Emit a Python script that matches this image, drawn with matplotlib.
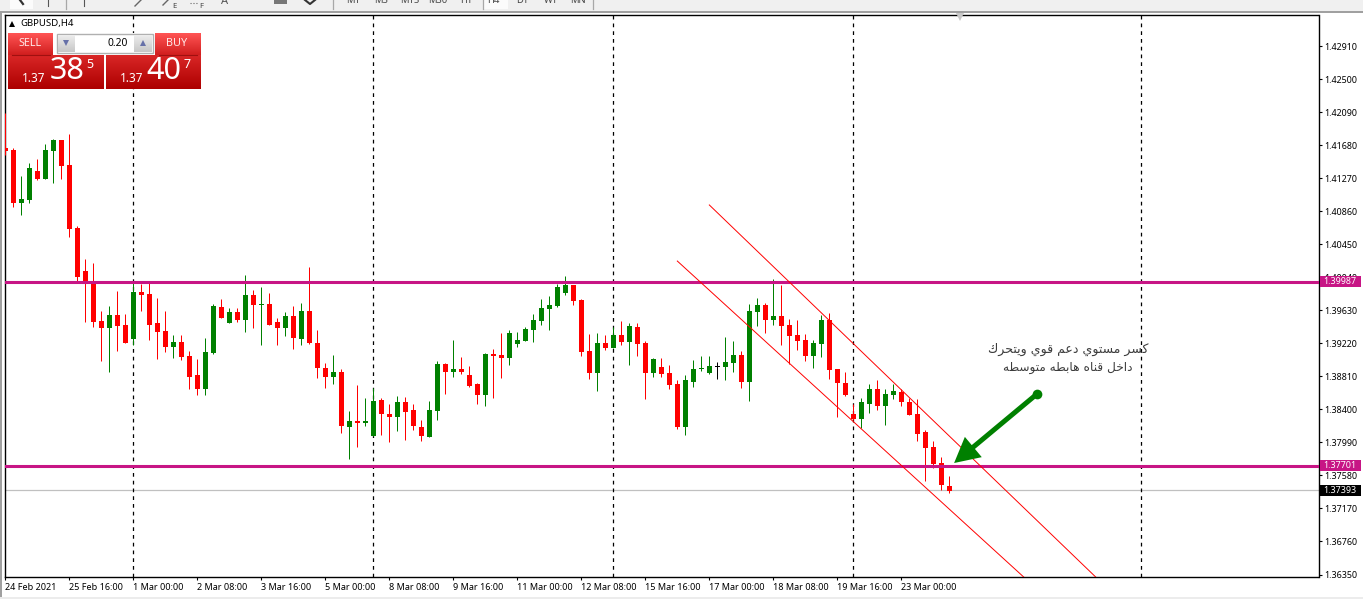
"""
    GBPUSD H4 candles, MT4 look
    saves out.png
"""
from matplotlib import pyplot as plt
from matplotlib.patches import Rectangle, FancyArrowPatch
import numpy as np

W, H = 1363, 599

opens = [1.41644, 1.41619, 1.40961, 1.40999, 1.41359, 1.41259, 1.41607, 1.41743, 1.41433, 1.40651,
         1.40117, 1.39968, 1.39497, 1.39410, 1.39571, 1.39447, 1.39273, 1.39857, 1.39832, 1.39472,
         1.39373, 1.39174, 1.39236, 1.39062, 1.38826, 1.38653, 1.39100, 1.39670, 1.39472, 1.39608,
         1.39509, 1.39820, 1.39695, 1.39708, 1.39484, 1.39410, 1.39559, 1.39273, 1.39621, 1.39224,
         1.38913, 1.38802, 1.38864, 1.38181, 1.38256, 1.38231, 1.38069, 1.38516, 1.38343, 1.38305,
         1.38491, 1.38392, 1.38181, 1.38057, 1.38380, 1.38963, 1.38864, 1.38901, 1.38826, 1.38715,
         1.38578, 1.39087, 1.39075, 1.39037, 1.39211, 1.39249, 1.39385, 1.39497, 1.39646, 1.39683,
         1.39844, 1.39943, 1.39757, 1.39124, 1.38851, 1.39224, 1.39162, 1.39323, 1.39236, 1.39422,
         1.39224, 1.38851, 1.38926, 1.38851, 1.38715, 1.38181, 1.38740, 1.38901, 1.38851, 1.38932,
         1.38926, 1.38975, 1.39075, 1.38740, 1.39608, 1.39695, 1.39509, 1.39559, 1.39447, 1.39323,
         1.39261, 1.39062, 1.39211, 1.39509, 1.38901, 1.38727, 1.38343, 1.38281, 1.38467, 1.38653,
         1.38442, 1.38578, 1.38615, 1.38491, 1.38343, 1.38119, 1.37933, 1.37734, 1.37449]
highs = [1.42078, 1.41644, 1.41296, 1.41458, 1.41507, 1.41694, 1.41756, 1.41743, 1.41818, 1.40676,
         1.40266, 1.40216, 1.39621, 1.39683, 1.39869, 1.39584, 1.39993, 1.39956, 1.39993, 1.39782,
         1.39621, 1.39323, 1.39323, 1.39124, 1.39025, 1.39286, 1.39708, 1.39770, 1.39658, 1.39658,
         1.40068, 1.39881, 1.39918, 1.39844, 1.39534, 1.39608, 1.39683, 1.39720, 1.40167, 1.39385,
         1.38975, 1.39075, 1.38901, 1.38380, 1.38702, 1.38541, 1.38665, 1.38541, 1.38467, 1.38566,
         1.38553, 1.38467, 1.38268, 1.38504, 1.39000, 1.38975, 1.39261, 1.39050, 1.38938, 1.38727,
         1.39100, 1.39149, 1.39348, 1.39385, 1.39360, 1.39422, 1.39584, 1.39770, 1.39807, 1.39956,
         1.40055, 1.39943, 1.39770, 1.39335, 1.39348, 1.39323, 1.39422, 1.39497, 1.39472, 1.39472,
         1.39249, 1.39037, 1.39037, 1.38951, 1.38764, 1.38826, 1.39013, 1.39062, 1.39062, 1.38988,
         1.39298, 1.39249, 1.39124, 1.39708, 1.39782, 1.39720, 1.40018, 1.39943, 1.39522, 1.39509,
         1.39335, 1.39261, 1.39571, 1.39596, 1.38901, 1.38864, 1.38467, 1.38541, 1.38715, 1.38764,
         1.38653, 1.38715, 1.38653, 1.38541, 1.38529, 1.38144, 1.38007, 1.37809, 1.37573]
lows = [1.41557, 1.40912, 1.40812, 1.40961, 1.41247, 1.41259, 1.41210, 1.41259, 1.40539, 1.39993,
        1.39484, 1.39422, 1.39000, 1.38864, 1.39124, 1.39224, 1.39199, 1.39621, 1.39261, 1.39025,
        1.39112, 1.39037, 1.39013, 1.38653, 1.38578, 1.38578, 1.39087, 1.39534, 1.39472, 1.39484,
        1.39360, 1.39410, 1.39199, 1.39447, 1.39199, 1.39311, 1.39149, 1.39199, 1.39211, 1.38789,
        1.38665, 1.38715, 1.38107, 1.37784, 1.37933, 1.38194, 1.38069, 1.38082, 1.37995, 1.38131,
        1.38020, 1.38144, 1.38007, 1.38057, 1.38268, 1.38591, 1.38802, 1.38839, 1.38678, 1.38467,
        1.38442, 1.38541, 1.38789, 1.38951, 1.39174, 1.39249, 1.39236, 1.39447, 1.39385, 1.39670,
        1.39820, 1.39695, 1.39062, 1.38777, 1.38628, 1.39137, 1.39162, 1.39199, 1.38951, 1.39062,
        1.38529, 1.38802, 1.38802, 1.38653, 1.38156, 1.38082, 1.38678, 1.38876, 1.38839, 1.38777,
        1.38764, 1.38864, 1.38665, 1.38504, 1.39435, 1.39348, 1.39447, 1.39199, 1.38963, 1.39137,
        1.39000, 1.38913, 1.39050, 1.38777, 1.38305, 1.38566, 1.38268, 1.38169, 1.38355, 1.38392,
        1.38206, 1.38529, 1.38442, 1.38330, 1.38007, 1.37511, 1.37672, 1.37399, 1.37362]
closes = [1.41607, 1.40961, 1.41011, 1.41396, 1.41259, 1.41619, 1.41743, 1.41421, 1.40639, 1.40043,
          1.39956, 1.39484, 1.39410, 1.39571, 1.39435, 1.39224, 1.39857, 1.39820, 1.39447, 1.39360,
          1.39174, 1.39236, 1.39050, 1.38802, 1.38653, 1.39112, 1.39683, 1.39534, 1.39608, 1.39509,
          1.39820, 1.39695, 1.39708, 1.39447, 1.39410, 1.39559, 1.39286, 1.39621, 1.39224, 1.38913,
          1.38802, 1.38864, 1.38194, 1.38256, 1.38231, 1.38256, 1.38504, 1.38343, 1.38305, 1.38491,
          1.38367, 1.38194, 1.38069, 1.38392, 1.38963, 1.38864, 1.38901, 1.38864, 1.38690, 1.38578,
          1.39087, 1.39062, 1.39037, 1.39348, 1.39261, 1.39398, 1.39509, 1.39658, 1.39695, 1.39918,
          1.39943, 1.39745, 1.39112, 1.38851, 1.39224, 1.39162, 1.39323, 1.39236, 1.39435, 1.39211,
          1.38851, 1.39025, 1.38839, 1.38702, 1.38181, 1.38764, 1.38901, 1.38913, 1.38938, 1.38932,
          1.38988, 1.39075, 1.38740, 1.39621, 1.39695, 1.39509, 1.39559, 1.39435, 1.39311, 1.39249,
          1.39062, 1.39224, 1.39509, 1.38888, 1.38727, 1.38578, 1.38281, 1.38491, 1.38653, 1.38442,
          1.38591, 1.38628, 1.38491, 1.38330, 1.38094, 1.37921, 1.37722, 1.37461, 1.37387]

price_ticks = [1.42910, 1.42500, 1.42090, 1.41680, 1.41270, 1.40860, 1.40450, 1.40040, 1.39630,
               1.39220, 1.38810, 1.38400, 1.37990, 1.37580, 1.37170, 1.36760, 1.36350]
date_ticks = list(range(0, 120, 8))
date_labels = ["24 Feb 2021", "25 Feb 16:00", "1 Mar 00:00", "2 Mar 08:00", "3 Mar 16:00",
               "5 Mar 00:00", "8 Mar 08:00", "9 Mar 16:00", "11 Mar 00:00", "12 Mar 08:00",
               "15 Mar 16:00", "17 Mar 00:00", "18 Mar 08:00", "19 Mar 16:00", "23 Mar 00:00"]
period_seps = [16, 46, 76, 106, 142]
support_levels = [1.39987, 1.37701]
last_price = 1.37393
channel_upper = ([88.0, 136.3], [1.40937, 1.36319])
channel_lower = ([84.0, 127.3], [1.40241, 1.36319])
note_lines = ["كسر مستوي دعم قوي ويتحرك", "داخل قناه هابطه متوسطه"]

GREEN = "#008000"
RED = "#ff0000"
MAGENTA = "#c71585"

FORMS = {
    "ا": (0xFE8D, 0xFE8E, None, None), "ب": (0xFE8F, 0xFE90, 0xFE91, 0xFE92),
    "ت": (0xFE95, 0xFE96, 0xFE97, 0xFE98), "ح": (0xFEA1, 0xFEA2, 0xFEA3, 0xFEA4),
    "خ": (0xFEA5, 0xFEA6, 0xFEA7, 0xFEA8), "د": (0xFEA9, 0xFEAA, None, None),
    "ر": (0xFEAD, 0xFEAE, None, None), "س": (0xFEB1, 0xFEB2, 0xFEB3, 0xFEB4),
    "ط": (0xFEC1, 0xFEC2, 0xFEC3, 0xFEC4), "ع": (0xFEC9, 0xFECA, 0xFECB, 0xFECC),
    "ق": (0xFED5, 0xFED6, 0xFED7, 0xFED8), "ك": (0xFED9, 0xFEDA, 0xFEDB, 0xFEDC),
    "ل": (0xFEDD, 0xFEDE, 0xFEDF, 0xFEE0), "م": (0xFEE1, 0xFEE2, 0xFEE3, 0xFEE4),
    "ن": (0xFEE5, 0xFEE6, 0xFEE7, 0xFEE8), "ه": (0xFEE9, 0xFEEA, 0xFEEB, 0xFEEC),
    "و": (0xFEED, 0xFEEE, None, None), "ي": (0xFEF1, 0xFEF2, 0xFEF3, 0xFEF4),
}


def shape_arabic(line):
    '''matplotlib does no shaping, so pick the joined forms and flip the order'''
    out = []
    for word in line.split(" "):
        letters = []
        for n, ch in enumerate(word):
            form = FORMS[ch]
            joins_prev = n > 0 and FORMS[word[n - 1]][2] is not None
            joins_next = n < len(word) - 1 and form[2] is not None
            if joins_prev and joins_next:
                code = form[3]
            elif joins_prev:
                code = form[1]
            elif joins_next:
                code = form[2]
            else:
                code = form[0]
            letters.append(chr(code))
        out.append("".join(letters))
    return " ".join(out)[::-1]


def draw_candles(ax):
    x = np.arange(len(opens))
    o, h, l, c = map(np.array, (opens, highs, lows, closes))
    colors = np.where(c > o, GREEN, np.where(c < o, RED, "#000000"))
    ax.vlines(x, l, h, colors=colors, linewidth=0.72, zorder=3)
    body = np.maximum(np.abs(c - o), 0.00012)
    ax.bar(x, body, bottom=np.minimum(o, c), width=0.66, color=colors,
           linewidth=0, zorder=3)


def draw_price_axes(ax):
    ax.set_xlim(-0.104, 164.15)
    ax.set_ylim(1.363193, 1.432948)
    ax.yaxis.tick_right()
    ax.set_yticks(price_ticks)
    ax.set_yticklabels(["%.5f" % p for p in price_ticks])
    ax.set_xticks(date_ticks)
    ax.set_xticklabels(date_labels, ha="left")
    ax.tick_params(axis="y", length=2.5, width=0.8, labelsize=6.45, pad=1.8)
    ax.tick_params(axis="x", length=2.5, width=0.8, labelsize=6.5, pad=1.5)
    for spine in ax.spines.values():
        spine.set_linewidth(1.0)


def draw_lines(ax):
    for s in period_seps:
        ax.axvline(s, color="black", lw=0.9, ls=(0, (3, 3.2)), zorder=2)
    ax.axhline(last_price, color="#c0c0c0", lw=0.9, zorder=1)
    for level in support_levels:
        ax.axhline(level, color=MAGENTA, lw=2.2, zorder=4)
    ax.plot(*channel_upper, color=RED, lw=0.7, zorder=5)
    ax.plot(*channel_lower, color=RED, lw=0.7, zorder=5)

    arrow_tail = (128.96, 1.38591)
    arrow_tip = (118.6, 1.37734)
    ax.plot(*arrow_tail, "o", color=GREEN, ms=7, mew=0, zorder=6)
    ax.add_patch(FancyArrowPatch(arrow_tail, arrow_tip, arrowstyle="simple,tail_width=3.6,head_width=19,head_length=18",
                                 color=GREEN, lw=0, shrinkA=0, shrinkB=0, mutation_scale=1, zorder=6))
    ax.text(1068 / 8 - 0.66, 1.39145, shape_arabic(note_lines[0]), family="DejaVu Sans", fontsize=9,
            color="#3c3c3c", ha="center", va="center", zorder=6)
    ax.text(1068 / 8 - 0.66, 1.38925, shape_arabic(note_lines[1]), family="DejaVu Sans", fontsize=8.7,
            color="#3c3c3c", ha="center", va="center", zorder=6)


def gradient(ui, x0, x1, y0, y1, top, bottom, z=5):
    ramp = np.linspace(0, 1, 32)[:, None, None]
    img = (1 - ramp) * np.array(top)[None, None, :] + ramp * np.array(bottom)[None, None, :]
    ui.imshow(img, extent=(x0, x1, y1, y0), aspect="auto", interpolation="bilinear", zorder=z)


def draw_ui(ui):
    '''window furniture, in pixel coordinates of the screenshot'''
    ui.add_patch(Rectangle((0, 0), W, 11, color="#f0f0f0", lw=0))
    ui.add_patch(Rectangle((0, 11), W, 1.6, color="#a0a0a0", lw=0))
    ui.add_patch(Rectangle((0, 13), 2, H, color="#a0a0a0", lw=0))
    ui.add_patch(Rectangle((0, 597), W, 2, color="#ececec", lw=0))

    # toolbar, only its lower edge shows
    ui.add_patch(Rectangle((10, 0), 23, 9, color="#fbfbfb", lw=0))
    ui.add_patch(Rectangle((483, 0), 25, 9, color="#fbfbfb", lw=0))
    ui.plot([20, 23], [0, 4], color="#333333", lw=1.6)
    for x in (48, 84):
        ui.plot([x, x], [0, 6], color="#555555", lw=0.8)
    for x in (66, 333, 456 + 27, 593):
        ui.plot([x, x], [0, 9], color="#a8a8a8", lw=0.9)
    ui.plot([135, 141], [6, 0], color="#666666", lw=1)
    ui.plot([163, 168], [5, 0], color="#666666", lw=1)
    ui.plot([190, 198], [3, 3], color="#666666", lw=0.8, ls=":")
    ui.add_patch(Rectangle((274, 0), 13, 4, color="#777777", lw=0))
    ui.plot([305, 310, 315], [0, 4, 0], color="#333333", lw=1.5)
    ui.text(174, 6, "E", fontsize=5.5, color="#444444", ha="center", va="center")
    ui.text(201, 6, "F", fontsize=5.5, color="#444444", ha="center", va="center")
    ui.text(225, 1, "A", fontsize=8, color="#555555", ha="center", va="center", clip_on=True)
    periods = ["M1", "M5", "M15", "M30", "H1", "H4", "D1", "W1", "MN"]
    period_x = [353, 381, 410, 438, 466, 493, 522, 551, 578]
    for x, name in zip(period_x, periods):
        ui.text(x, 0.5, name, fontsize=6.8, color="#444444", ha="center", va="center", clip_on=True)

    ui.plot([960], [16.5], marker="v", color="#c8c8c8", ms=6, mew=0)

    # symbol and one click trading
    ui.plot([11.5], [23.5], marker="^", color="black", ms=5, mew=0, zorder=6)
    ui.text(20, 23.5, "GBPUSD,H4", fontsize=6.9, color="black", va="center", zorder=6)
    gradient(ui, 8, 53, 33, 55, (1, 0.33, 0.33), (0.82, 0.12, 0.12))
    gradient(ui, 155, 201, 33, 55, (1, 0.33, 0.33), (0.82, 0.12, 0.12))
    gradient(ui, 8, 104, 55, 89, (0.85, 0.15, 0.15), (0.68, 0, 0))
    gradient(ui, 106, 201, 55, 89, (0.85, 0.15, 0.15), (0.68, 0, 0))
    ui.add_patch(Rectangle((53, 33), 102, 22, color="white", lw=0, zorder=5))
    ui.add_patch(Rectangle((56.5, 33.5), 96, 19, fc="white", ec="#b0b0b0", lw=1, zorder=6))
    gradient(ui, 58, 75, 35, 52, (0.93, 0.93, 0.93), (0.78, 0.78, 0.78), z=6.5)
    gradient(ui, 134, 152, 35, 52, (0.93, 0.93, 0.93), (0.78, 0.78, 0.78), z=6.5)
    ui.plot([65.5], [42.5], marker="v", color="#6670a8", ms=4, mew=0, zorder=7)
    ui.plot([142.5], [42.5], marker="^", color="#6670a8", ms=4, mew=0, zorder=7)
    ui.plot([12, 50], [54.5, 54.5], color="#a01010", lw=0.8, zorder=7)
    ui.plot([159, 197], [54.5, 54.5], color="#a01010", lw=0.8, zorder=7)
    ui.set_xlim(0, W)
    ui.set_ylim(H, 0)
    ui.text(30, 44, "SELL", fontsize=7.8, color="#ffe8e8", ha="center", va="center", zorder=8)
    ui.text(177, 44, "BUY", fontsize=7.8, color="#ffe8e8", ha="center", va="center", zorder=8)
    ui.text(128, 43, "0.20", fontsize=7.4, color="black", ha="right", va="center", zorder=8)
    for x0, big, x1, small, x2 in ((34, "38", 67, "5", 90), (132, "40", 164, "7", 187)):
        ui.text(x0, 78.5, "1.37", fontsize=8.5, color="white", weight="bold", ha="center", va="center", zorder=8)
        ui.text(x1, 71, big, fontsize=22, color="white", ha="center", va="center", zorder=8)
        ui.text(x2, 64, small, fontsize=9, color="white", weight="bold", ha="center", va="center", zorder=8)

    # price boxes on the scale
    boxes = [(281.5, "1.39987", MAGENTA), (465, "1.37701", MAGENTA), (490.5, "1.37393", "black")]
    for y, label, color in boxes:
        ui.add_patch(Rectangle((1320, y - 5.5), 41, 11, color=color, lw=0, zorder=6))
        ui.text(1323, y, label, fontsize=6.45, color="white", va="center", zorder=7)


if __name__ == '__main__':
    plt.rcParams['font.family'] = ['Noto Sans', 'DejaVu Sans']
    fig = plt.figure(figsize=(W / 100, H / 100), dpi=100)
    ax = fig.add_axes([4.5 / W, 1 - 577 / H, 1314 / W, 562 / H])
    draw_candles(ax)
    draw_lines(ax)
    draw_price_axes(ax)

    ui = fig.add_axes([0, 0, 1, 1], facecolor="none", zorder=10)
    ui.set_axis_off()
    ui.set_xlim(0, W)
    ui.set_ylim(H, 0)
    draw_ui(ui)

    fig.savefig("out.png", dpi=100)
